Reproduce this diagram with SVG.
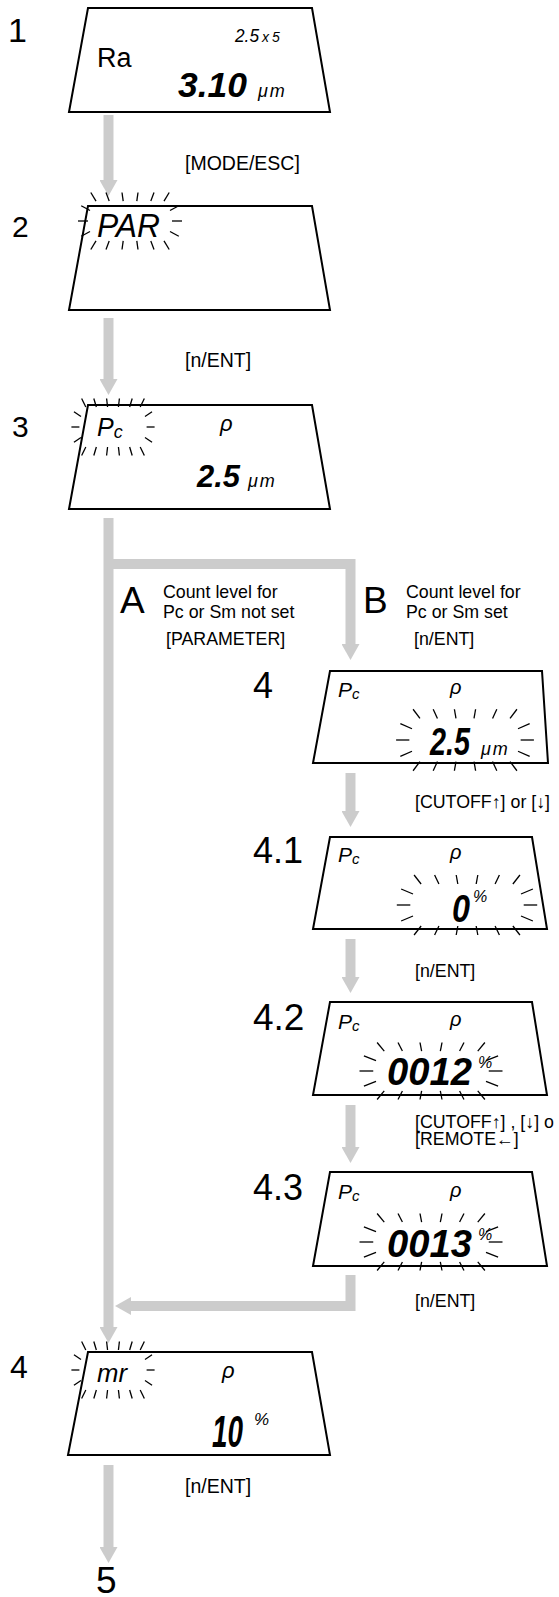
<svg xmlns="http://www.w3.org/2000/svg" xmlns:xlink="http://www.w3.org/1999/xlink" width="559" height="1597" viewBox="0 0 559 1597">
<style>
.box{fill:#fff;stroke:#000;stroke-width:2;stroke-linejoin:miter}
.num{font-family:"Liberation Sans",Arial,sans-serif;fill:#000}
.lbl{font-family:"Liberation Sans",Arial,sans-serif;font-size:17.8px;fill:#000}
.lbl2{font-family:"Liberation Sans",Arial,sans-serif;font-size:19.5px;fill:#000}
.lcd{font-family:"Liberation Sans",Arial,sans-serif;font-style:italic;fill:#000}
.big{font-weight:bold}
.conn{fill:none;stroke:#cccccc;stroke-width:10;stroke-linejoin:miter}
.ray line{stroke:#000;stroke-width:1.3;vector-effect:non-scaling-stroke}
</style>
<defs>
<marker id="ah" markerUnits="userSpaceOnUse" markerWidth="16" markerHeight="18" viewBox="0 0 16 18" refX="0" refY="9" orient="auto">
<path d="M0,0 L16,9 L0,18 z" fill="#cccccc"/>
</marker>
<g id="rays" class="ray">
<line x1="-0.85" y1="-1.05" x2="-0.98" y2="-1.5"/>
<line x1="-0.52" y1="-1.05" x2="-0.6" y2="-1.5"/>
<line x1="-0.17" y1="-1.05" x2="-0.2" y2="-1.5"/>
<line x1="0.17" y1="-1.05" x2="0.2" y2="-1.5"/>
<line x1="0.52" y1="-1.05" x2="0.6" y2="-1.5"/>
<line x1="0.85" y1="-1.05" x2="0.98" y2="-1.5"/>
<line x1="-0.85" y1="1.05" x2="-0.98" y2="1.5"/>
<line x1="-0.52" y1="1.05" x2="-0.6" y2="1.5"/>
<line x1="-0.17" y1="1.05" x2="-0.2" y2="1.5"/>
<line x1="0.17" y1="1.05" x2="0.2" y2="1.5"/>
<line x1="0.52" y1="1.05" x2="0.6" y2="1.5"/>
<line x1="0.85" y1="1.05" x2="0.98" y2="1.5"/>
<line x1="1.0" y1="-0.55" x2="1.22" y2="-0.8"/>
<line x1="1.05" y1="0" x2="1.3" y2="0"/>
<line x1="1.0" y1="0.55" x2="1.22" y2="0.8"/>
<line x1="-1.0" y1="-0.55" x2="-1.22" y2="-0.8"/>
<line x1="-1.05" y1="0" x2="-1.3" y2="0"/>
<line x1="-1.0" y1="0.55" x2="-1.22" y2="0.8"/>
</g>
</defs>
<rect width="559" height="1597" fill="#fff"/>

<g id="connectors">
<path class="conn" d="M108.5,115 V180" marker-end="url(#ah)"/>
<path class="conn" d="M108.5,318 V379" marker-end="url(#ah)"/>
<path class="conn" d="M108.5,518 V1327" marker-end="url(#ah)"/>
<path class="conn" d="M108.5,564 H350.5 V644" marker-end="url(#ah)"/>
<path class="conn" d="M350.5,773 V811" marker-end="url(#ah)"/>
<path class="conn" d="M350.5,939 V977" marker-end="url(#ah)"/>
<path class="conn" d="M350.5,1105 V1147" marker-end="url(#ah)"/>
<path class="conn" d="M350.5,1275 V1306 H131" marker-end="url(#ah)"/>
<path class="conn" d="M108.5,1465 V1547" marker-end="url(#ah)"/>
</g>

<g id="labels">
<text class="lbl2" x="185" y="170">[MODE/ESC]</text>
<text class="lbl2" x="185" y="367">[n/ENT]</text>
<text class="num" x="120" y="613" font-size="37">A</text>
<text class="lbl" x="163" y="598">Count level for</text>
<text class="lbl" x="163" y="618">Pc or Sm not set</text>
<text class="lbl" x="166" y="645">[PARAMETER]</text>
<text class="num" x="363" y="613" font-size="37">B</text>
<text class="lbl" x="406" y="598">Count level for</text>
<text class="lbl" x="406" y="618">Pc or Sm set</text>
<text class="lbl" x="414" y="645">[n/ENT]</text>
<text class="lbl" x="415" y="808">[CUTOFF↑] or [↓]</text>
<text class="lbl" x="415" y="977">[n/ENT]</text>
<text class="lbl" x="415" y="1128">[CUTOFF↑] , [↓] o</text>
<text class="lbl" x="415" y="1145">[REMOTE←]</text>
<text class="lbl" x="415" y="1307">[n/ENT]</text>
<text class="lbl2" x="185" y="1493">[n/ENT]</text>
</g>

<g id="node1">
<text class="num" x="8" y="42" font-size="34">1</text>
<polygon class="box" points="88,8 312,8 330,112 69,112"/>
<text class="num" x="97" y="67" font-size="27">Ra</text>
<text class="lcd" x="235" y="42" font-size="19" textLength="24" lengthAdjust="spacingAndGlyphs">2.5</text>
<text class="lcd" x="262" y="42" font-size="14" letter-spacing="3">x5</text>
<text class="lcd big" x="178" y="97" font-size="35" textLength="69" lengthAdjust="spacingAndGlyphs">3.10</text>
<text class="lcd" x="258" y="97" font-size="18" letter-spacing="2">μm</text>
</g>

<g id="node2">
<text class="num" x="12" y="237" font-size="30">2</text>
<polygon class="box" points="88,206 312,206 330,310 69,310"/>
<text class="lcd" x="97" y="237" font-size="34" textLength="63" lengthAdjust="spacingAndGlyphs">PAR</text>
<use xlink:href="#rays" transform="translate(130,221) scale(40,19)"/>
</g>

<g id="node3">
<text class="num" x="12" y="437" font-size="30">3</text>
<polygon class="box" points="88,405 312,405 330,509 69,509"/>
<text class="lcd" x="97" y="436" font-size="25">P<tspan font-size="18" dy="2">c</tspan></text>
<use xlink:href="#rays" transform="translate(113,427) scale(32,19)"/>
<text class="lcd" x="220" y="431" font-size="22">ρ</text>
<text class="lcd big" x="197" y="487" font-size="31" textLength="43" lengthAdjust="spacingAndGlyphs">2.5</text>
<text class="lcd" x="248" y="487" font-size="18" letter-spacing="2">μm</text>
</g>

<g id="node4">
<text class="num" x="253" y="698" font-size="36">4</text>
<polygon class="box" points="330,671 542,671 548,763 313,763"/>
<text class="lcd" x="338" y="697" font-size="21">P<tspan font-size="15" dy="2">c</tspan></text>
<text class="lcd" x="450" y="694" font-size="20">ρ</text>
<text class="lcd big" x="430" y="755" font-size="38" textLength="40" lengthAdjust="spacingAndGlyphs">2.5</text>
<text class="lcd" x="481" y="755" font-size="18" letter-spacing="2">μm</text>
<use xlink:href="#rays" transform="translate(465,740) scale(53,20.5)"/>
</g>

<g id="node4_1">
<text class="num" x="253" y="863" font-size="36">4.1</text>
<polygon class="box" points="330,837 532,837 547,929 313,929"/>
<text class="lcd" x="338" y="862" font-size="21">P<tspan font-size="15" dy="2">c</tspan></text>
<text class="lcd" x="450" y="859" font-size="20">ρ</text>
<text class="lcd big" x="452" y="922" font-size="39" textLength="18" lengthAdjust="spacingAndGlyphs">0</text>
<text class="lcd" x="473" y="902" font-size="16">%</text>
<use xlink:href="#rays" transform="translate(467,905) scale(54,20)"/>
</g>

<g id="node4_2">
<text class="num" x="253" y="1030" font-size="37">4.2</text>
<polygon class="box" points="330,1002 532,1002 547,1095 313,1095"/>
<text class="lcd" x="338" y="1029" font-size="21">P<tspan font-size="15" dy="2">c</tspan></text>
<text class="lcd" x="450" y="1026" font-size="20">ρ</text>
<text class="lcd big" x="387" y="1085" font-size="39" textLength="85" lengthAdjust="spacingAndGlyphs">0012</text>
<text class="lcd" x="478" y="1068" font-size="16">%</text>
<use xlink:href="#rays" transform="translate(431,1071) scale(55,19)"/>
</g>

<g id="node4_3">
<text class="num" x="253" y="1200" font-size="36">4.3</text>
<polygon class="box" points="330,1172 532,1172 547,1266 313,1266"/>
<text class="lcd" x="338" y="1199" font-size="21">P<tspan font-size="15" dy="2">c</tspan></text>
<text class="lcd" x="450" y="1197" font-size="20">ρ</text>
<text class="lcd big" x="387" y="1257" font-size="39" textLength="85" lengthAdjust="spacingAndGlyphs">0013</text>
<text class="lcd" x="478" y="1240" font-size="16">%</text>
<use xlink:href="#rays" transform="translate(431,1242) scale(55,19)"/>
</g>

<g id="node4_final">
<text class="num" x="10" y="1378" font-size="32">4</text>
<polygon class="box" points="88,1352 312,1352 330,1455 68,1455"/>
<text class="lcd" x="97" y="1382" font-size="26" textLength="30" lengthAdjust="spacingAndGlyphs">mr</text>
<use xlink:href="#rays" transform="translate(113,1370) scale(32,19)"/>
<text class="lcd" x="222" y="1378" font-size="22">ρ</text>
<text class="lcd big" x="212" y="1447" font-size="44" textLength="31" lengthAdjust="spacingAndGlyphs">10</text>
<text class="lcd" x="254" y="1425" font-size="17">%</text>
</g>

<g id="node5">
<text class="num" x="96" y="1593" font-size="37">5</text>
</g>
</svg>
